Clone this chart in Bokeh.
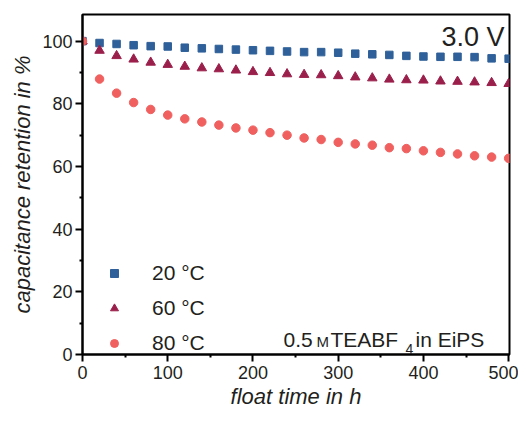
import math
from bokeh.plotting import figure
from bokeh.models import Range1d, Label, Legend, LegendItem, FixedTicker, ColumnDataSource
from bokeh.embed import file_html
from bokeh.resources import INLINE

# ---- data ----
time_h = [0, 20, 40, 60, 80, 100, 120, 140, 160, 180, 200, 220, 240,
          260, 280, 300, 320, 340, 360, 380, 400, 420, 440, 460, 480, 500]
ret_20C = [100, 99.4, 99.1, 98.7, 98.4, 98.3, 97.9, 97.7, 97.5, 97.3, 97.1, 96.9, 96.7,
           96.5, 96.5, 96.3, 96.0, 95.8, 95.6, 95.3, 95.1, 95.0, 95.0, 94.9, 94.5, 94.4]
ret_60C = [100, 97.0, 95.3, 94.2, 93.2, 92.5, 91.9, 91.4, 91.1, 90.7, 90.2, 89.9, 89.5,
           89.3, 89.2, 88.9, 88.5, 88.2, 87.8, 87.6, 87.5, 87.2, 87.1, 86.9, 86.7, 86.4]
ret_80C = [100, 87.9, 83.4, 80.4, 78.2, 76.4, 75.2, 74.2, 73.2, 72.3, 71.6, 70.8, 70.0,
           69.1, 68.6, 67.7, 67.2, 66.8, 66.0, 65.7, 65.0, 64.5, 64.0, 63.4, 63.0, 62.6]
series_labels = ["20 °C", "60 °C", "80 °C"]
x_ticks = [0, 100, 200, 300, 400, 500]
y_ticks = [0, 20, 40, 60, 80, 100]

FONT = "Liberation Sans"
TXT = "#231f20"
C_BLUE = "#2f6099"
C_MAROON = "#9b1f4b"
C_CORAL = "#f0605f"

p = figure(width=518, height=424, output_backend="svg", toolbar_location=None,
           x_range=Range1d(0, 501), y_range=Range1d(0, 108.5),
           min_border_left=82, min_border_right=9, min_border_top=14, min_border_bottom=70)
p.background_fill_color = "white"
p.border_fill_color = "white"
p.grid.visible = False
p.outline_line_color = "black"
p.outline_line_width = 2

src = ColumnDataSource(dict(t=time_h, a=ret_20C, b=ret_60C, c=ret_80C))
r1 = p.scatter("t", "a", source=src, marker="square", size=7.5, color=C_BLUE)
r2 = p.scatter("t", "b", source=src, marker="triangle", size=9.5, color=C_MAROON)
r3 = p.scatter("t", "c", source=src, marker="circle", size=8.5, color=C_CORAL)

for ax in (p.xaxis[0], p.yaxis[0]):
    ax.axis_line_color = "black"
    ax.axis_line_width = 2
    ax.major_tick_line_color = "black"
    ax.major_tick_line_width = 2
    ax.minor_tick_line_color = "black"
    ax.minor_tick_line_width = 2
    ax.major_tick_in = 0
    ax.major_tick_out = 7
    ax.minor_tick_in = 0
    ax.minor_tick_out = 3
    ax.major_label_text_font = FONT
    ax.major_label_text_font_size = "18px"
    ax.major_label_text_color = TXT
    ax.axis_label_text_font = FONT
    ax.axis_label_text_font_style = "italic"
    ax.axis_label_text_font_size = "22px"
    ax.axis_label_text_color = TXT

p.xaxis[0].ticker = FixedTicker(ticks=x_ticks, minor_ticks=[50, 150, 250, 350, 450])
p.yaxis[0].ticker = FixedTicker(ticks=y_ticks, minor_ticks=[10, 30, 50, 70, 90])
p.xaxis[0].major_label_standoff = 4
p.yaxis[0].major_label_standoff = 3
p.xaxis[0].axis_label = "float time in h"
p.yaxis[0].axis_label = "capacitance retention in %"
p.xaxis[0].axis_label_standoff = 2
p.yaxis[0].axis_label_standoff = 4

# annotations
p.add_layout(Label(x=422, y=318, x_units="screen", y_units="screen", text="3.0 V",
                   text_font=FONT, text_font_size="27px", text_color=TXT,
                   text_align="right", text_baseline="middle"))
ann = [("0.5", 201, 15, "21px"), ("M", 234, 13, "15px"), ("TEABF", 248, 15, "21px"),
       ("4", 323, 6, "14px"), ("in EiPS", 333, 15, "21px")]
for txt, xx, yy, fs in ann:
    p.add_layout(Label(x=xx, y=yy, x_units="screen", y_units="screen", text=txt,
                       text_font=FONT, text_font_size=fs, text_color=TXT,
                       text_align="left", text_baseline="middle"))

legend = Legend(items=[LegendItem(label=series_labels[0], renderers=[r1]),
                       LegendItem(label=series_labels[1], renderers=[r2]),
                       LegendItem(label=series_labels[2], renderers=[r3])],
                location=(22, -1), orientation="vertical")
legend.border_line_alpha = 0
legend.background_fill_alpha = 0
legend.padding = 0
legend.margin = 0
legend.glyph_width = 20
legend.glyph_height = 20
legend.label_height = 20
legend.spacing = 11
legend.label_standoff = 28
legend.label_text_font = FONT
legend.label_text_font_size = "21px"
legend.label_text_color = TXT
p.add_layout(legend)

open("out.html", "w").write(file_html(p, INLINE))
